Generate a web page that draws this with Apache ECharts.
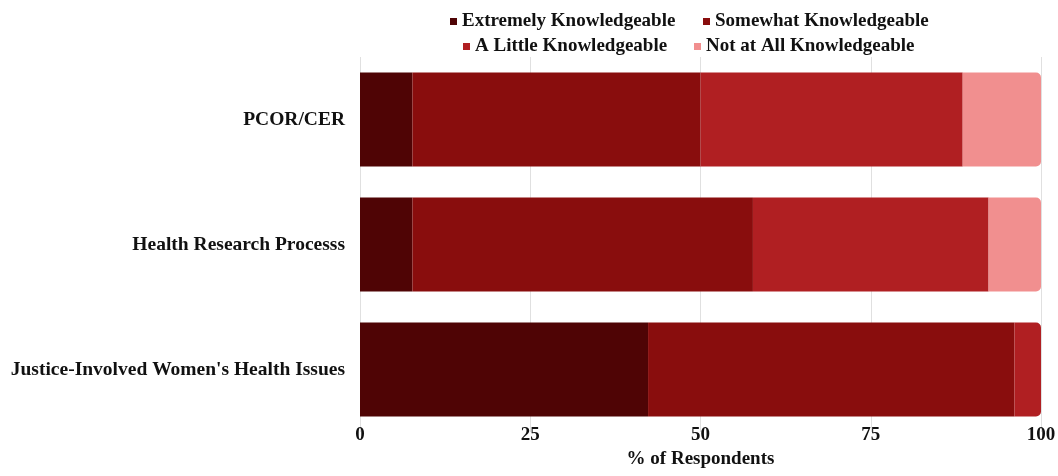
<!DOCTYPE html>
<html>
<head>
<meta charset="utf-8">
<script src="https://cdn.jsdelivr.net/npm/echarts@6/dist/echarts.min.js"></script>
<style>
  html, body { margin: 0; padding: 0; background: #fff; }
  #chart { width: 1058px; height: 476px; }
</style>
</head>
<body>
<div id="chart"></div>
<script>
// Survey topics, top to bottom
const categories = ['PCOR/CER', 'Health Research Processs', "Justice-Involved Women's Health Issues"];
// Share of respondents (%) per knowledge level
const extremely = [7.7, 7.7, 42.3];
const somewhat = [42.3, 50.0, 53.8];
const aLittle = [38.5, 34.6, 3.9];
const notAtAll = [11.5, 7.7, 0];
const xTicks = [0, 25, 50, 75, 100];

const levelNames = ['Extremely Knowledgeable', 'Somewhat Knowledgeable', 'A Little Knowledgeable', 'Not at All Knowledgeable'];
const levelValues = [extremely, somewhat, aLittle, notAtAll];
const levelColors = ['#4f0405', '#890d0d', '#b01f22', '#f18f8f'];

const font = 'Liberation Serif, Times New Roman, serif';

// Category axis runs bottom-up, so reverse to list the first topic on top
const cats = categories.slice().reverse();
const rev = arr => arr.slice().reverse();

// Round the right end of the outermost non-empty segment in each bar
function lastIndex(ci) {
  let last = 0;
  levelValues.forEach((vals, si) => { if (vals[ci] > 0) last = si; });
  return last;
}

const series = levelNames.map((name, si) => ({
  name,
  type: 'bar',
  stack: 'total',
  barCategoryGap: '24.8%',
  itemStyle: { color: levelColors[si] },
  data: rev(levelValues[si]).map((v, ri) => {
    const ci = categories.length - 1 - ri;
    return {
      value: v,
      itemStyle: { borderRadius: lastIndex(ci) === si ? [0, 5, 5, 0] : 0 }
    };
  })
}));

const legendText = { fontFamily: font, fontWeight: 'bold', fontSize: 19, color: '#111' };
function legendFor(name, left, top) {
  return {
    data: [name], left, top, icon: 'rect', itemWidth: 7, itemHeight: 7,
    itemGap: 0, padding: 0, textStyle: legendText
  };
}

const chart = echarts.init(document.getElementById('chart'));
chart.setOption({
  animation: false,
  legend: [
    legendFor(levelNames[0], 450, 12),
    legendFor(levelNames[1], 703, 12),
    legendFor(levelNames[2], 463, 37),
    legendFor(levelNames[3], 694, 37)
  ],
  grid: { left: 360, right: 17, top: 57, height: 375, outerBoundsMode: 'none' },
  xAxis: {
    type: 'value', min: xTicks[0], max: xTicks[xTicks.length - 1], interval: 25,
    name: '% of Respondents', nameLocation: 'middle', nameGap: 15,
    nameTextStyle: { fontFamily: font, fontWeight: 'bold', fontSize: 19, color: '#111', verticalAlign: 'top' },
    axisLine: { show: false }, axisTick: { show: false },
    axisLabel: { fontFamily: font, fontWeight: 'bold', fontSize: 19, color: '#111', margin: -6 },
    splitLine: { show: true, lineStyle: { color: '#e0e0e0', width: 1 } }
  },
  yAxis: {
    type: 'category', data: cats,
    axisLine: { show: false }, axisTick: { show: false },
    axisLabel: { fontFamily: font, fontWeight: 'bold', fontSize: 19.5, color: '#111', margin: 15 }
  },
  series
});
</script>
</body>
</html>
